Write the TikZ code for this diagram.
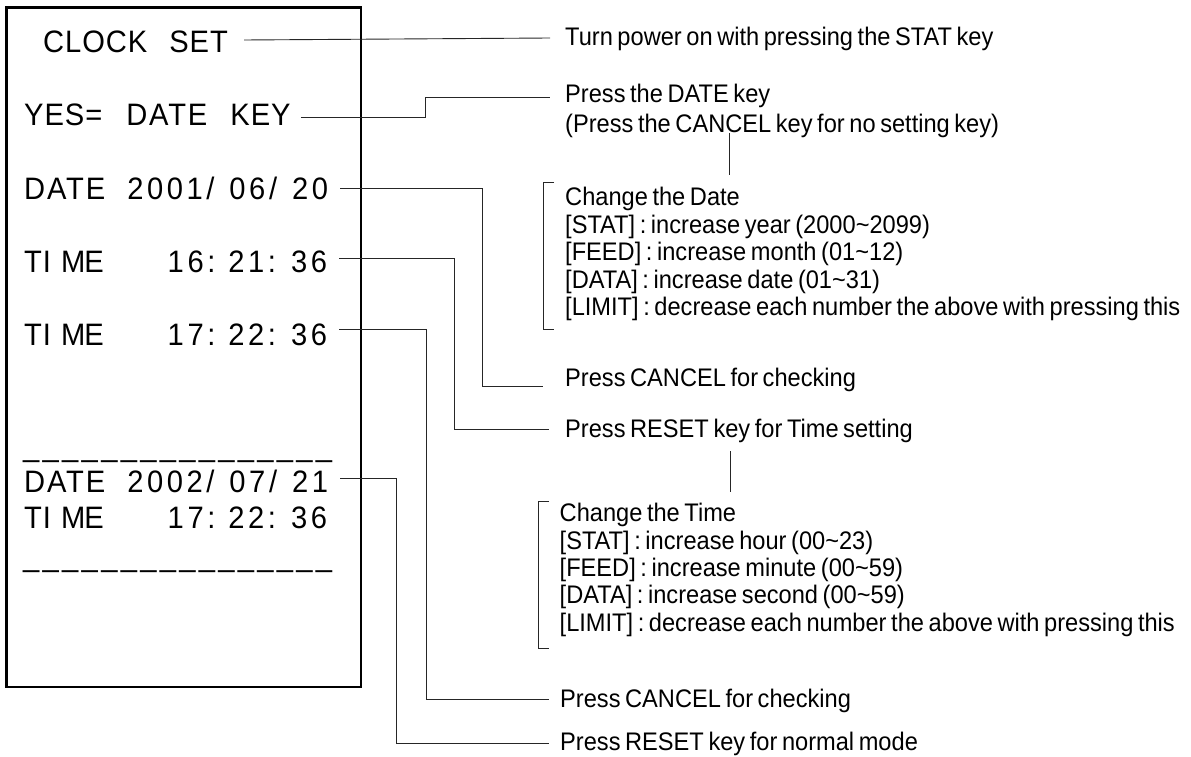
\documentclass[tikz,border=0pt]{standalone}
\usepackage{fontspec}
\setmainfont{Liberation Sans}
\newfontfamily\lcdA[LetterSpace=3,FakeStretch=0.94]{Liberation Sans}
\newfontfamily\lcdB[LetterSpace=6,FakeStretch=0.94]{Liberation Sans}
\newfontfamily\lcdD[LetterSpace=11.5,FakeStretch=0.94]{Liberation Sans}
\newfontfamily\lcdR[LetterSpace=10.7,FakeStretch=0.94]{Liberation Sans}
\newfontfamily\labfont[WordSpace=0.7,FakeStretch=0.93]{Liberation Sans}
\newcommand{\gp}[1]{\hspace*{#1pt}}
\tikzset{
  lcd/.style={anchor=base west,inner sep=0pt,font=\fontsize{31}{31}\selectfont,text height=21pt,text depth=0pt},
  lab/.style={anchor=base west,inner sep=0pt,font=\labfont\fontsize{25.4}{26}\selectfont,text height=12pt,text depth=0pt},
  wire/.style={draw=black!85,line width=0.9pt},
  frame/.style={draw=black,line width=2.4pt}
}
\begin{document}
\begin{tikzpicture}[x=1pt,y=-1pt]
\useasboundingbox (0,0) rectangle (1191,757);
\draw[frame] (6.5,7.5) rectangle (361,687);
% display
\node[lcd] (clock) at (43,53) {\lcdA CLOCK\gp{22}SET};
\node[lcd] (yes) at (24,126) {\lcdA YES=\gp{24}\lcdB DATE\gp{23}\lcdA KEY};
\node[lcd] (date1) at (24,199) {\lcdB DATE\gp{22}\lcdD 2001/\gp{15}06/\gp{15}20};
\node[lcd] (time1) at (24,272) {\lcdA TI\gp{10}M\gp{-1}E\gp{64}\lcdD 16:\gp{13}21:\gp{15}36};
\node[lcd] (time2) at (24,345) {\lcdA TI\gp{10}M\gp{-1}E\gp{64}\lcdD 17:\gp{13}22:\gp{15}36};
\node[lcd] (rule1) at (23,456) {\lcdR\_\_\_\_\_\_\_\_\_\_\_\_\_\_\_\_};
\node[lcd] (date2) at (24,492) {\lcdB DATE\gp{22}\lcdD 2002/\gp{15}07/\gp{15}21};
\node[lcd] (time3) at (24,528) {\lcdA TI\gp{10}M\gp{-1}E\gp{64}\lcdD 17:\gp{13}22:\gp{15}36};
\node[lcd] (rule2) at (23,566) {\lcdR\_\_\_\_\_\_\_\_\_\_\_\_\_\_\_\_};
% labels
\node[lab] (l1) at (565,46) {Turn power on with pressing the STAT key};
\node[lab] (l2) at (565,103) {Press the DATE key};
\node[lab] (l2b) at (565,132) {(Press the CANCEL key for no setting key)};
\node[lab] (d0) at (565,205) {Change the Date};
\node[lab] (d1) at (565,233) {[STAT] : increase year (2000\textasciitilde 2099)};
\node[lab] (d2) at (565,260) {[FEED] : increase month (01\textasciitilde 12)};
\node[lab] (d3) at (565,288) {[DATA] : increase date (01\textasciitilde 31)};
\node[lab] (d4) at (565,315) {[LIMIT] : decrease each number the above with pressing this};
\node[lab] (l3) at (565,386) {Press CANCEL for checking};
\node[lab] (l4) at (565,437) {Press RESET key for Time setting};
\node[lab] (t0) at (559.5,521) {Change the Time};
\node[lab] (t1) at (559.5,549) {[STAT] : increase hour (00\textasciitilde 23)};
\node[lab] (t2) at (559.5,576) {[FEED] : increase minute (00\textasciitilde 59)};
\node[lab] (t3) at (559.5,603) {[DATA] : increase second (00\textasciitilde 59)};
\node[lab] (t4) at (559.5,631) {[LIMIT] : decrease each number the above with pressing this};
\node[lab] (l5) at (560,707) {Press CANCEL for checking};
\node[lab] (l6) at (560,750) {Press RESET key for normal mode};
% connectors
\draw[wire] ([shift={(16pt,2.5pt)}]clock.east) -- ([shift={(-15pt,2pt)}]l1.west);
\draw[wire] ([shift={(10pt,-1.5pt)}]yes.east) -| (425,97) -- ([shift={(-15pt,0pt)}]l2.west);
\draw[wire] ([shift={(12pt,0.5pt)}]date1.east) -| (482,386) -- ([shift={(-22pt,-6pt)}]l3.west);
\draw[wire] ([shift={(12pt,3.5pt)}]time1.east) -| (454,429) -- ([shift={(-16pt,2pt)}]l4.west);
\draw[wire] ([shift={(12pt,5.5pt)}]time2.east) -| (426,699) -- ([shift={(-11pt,2pt)}]l5.west);
\draw[wire] ([shift={(12pt,3.5pt)}]date2.east) -| (396,743) -- ([shift={(-11pt,1pt)}]l6.west);
\coordinate (v1a) at (729,133);
\coordinate (v1b) at (729,175);
\coordinate (v2a) at (730,451);
\coordinate (v2b) at (730,492);
\draw[wire] (v1a) -- (v1b);
\draw[wire] (v2a) -- (v2b);
% brackets
\draw[wire] (554,182) -- (543.5,182) -- (543.5,329) -- (554,329);
\draw[wire] (549,501) -- (538,501) -- (538,648) -- (549,648);
\end{tikzpicture}
\end{document}
